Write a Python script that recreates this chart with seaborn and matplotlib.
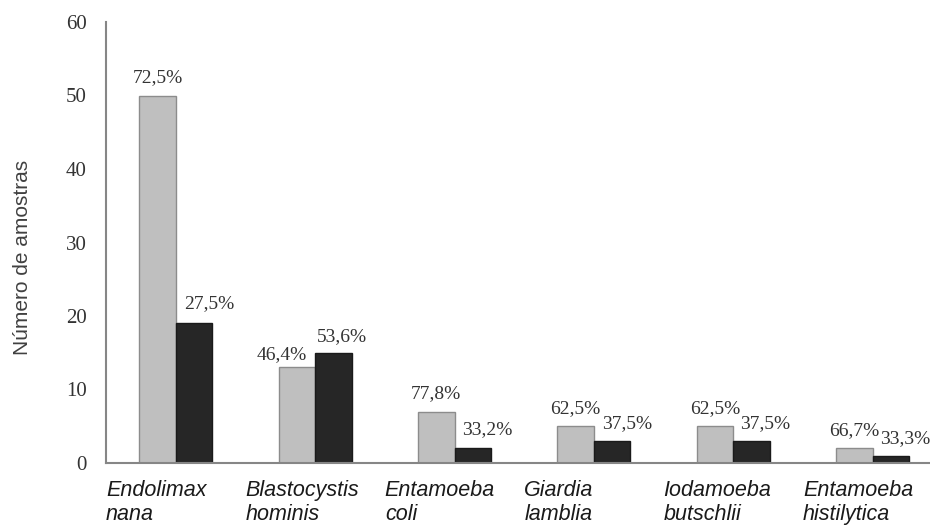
import numpy as np
import pandas as pd
import matplotlib
matplotlib.use("Agg")
import matplotlib.pyplot as plt
import seaborn as sns

# Parasite species (two-line labels) and sample counts per group
species = ["Endolimax\nnana", "Blastocystis\nhominis", "Entamoeba\ncoli",
           "Giardia\nlamblia", "Iodamoeba\nbutschlii", "Entamoeba\nhistilytica"]
grupo_a = [50, 13, 7, 5, 5, 2]
grupo_b = [19, 15, 2, 3, 3, 1]
pct_a = ["72,5%", "46,4%", "77,8%", "62,5%", "62,5%", "66,7%"]
pct_b = ["27,5%", "53,6%", "33,2%", "37,5%", "37,5%", "33,3%"]
y_ticks = [0, 10, 20, 30, 40, 50, 60]

df = pd.DataFrame({
    "especie": species * 2,
    "grupo": ["A"] * len(species) + ["B"] * len(species),
    "n": grupo_a + grupo_b,
})

sns.set_theme(style="white")
plt.rcParams["font.family"] = ["Liberation Sans", "DejaVu Sans"]

fig = plt.figure(figsize=(9.3, 5.25), dpi=100)
W, H = 930, 525
ax = fig.add_axes([106 / W, (H - 463) / H, (W - 106) / W, (463 - 22) / H])

sns.barplot(data=df, x="especie", y="n", hue="grupo",
            palette=["#bfbfbf", "#262626"], width=0.524, gap=0,
            order=species, legend=False, ax=ax, errorbar=None,
            saturation=1)

edge_cols = ["#8c8c8c", "#1a1a1a"]
for cont, ec in zip(ax.containers, edge_cols):
    for p in cont:
        p.set_edgecolor(ec)
        p.set_linewidth(1.0)

ax.set_xlim(-0.5, -0.5 + (W - 106) / 139.4)
ax.set_ylim(0, 60)
ax.set_yticks(y_ticks)
ax.set_yticklabels([str(t) for t in y_ticks], family="Liberation Serif",
                   fontsize=15, color="#333333")
ax.tick_params(axis="y", length=0, pad=14)

# Category names left-aligned at the start of each group slot
ax.set_xticks(np.arange(len(species)) - 0.5)
ax.set_xticklabels(species, ha="left", fontstyle="italic", fontsize=15.5,
                   color="#1a1a1a", linespacing=1.2)
ax.tick_params(axis="x", length=0, pad=12)

ax.set_xlabel("")
ax.set_ylabel("Número de amostras", fontsize=15, color="#404040")
ax.yaxis.set_label_coords(-0.09, 0.465)

for side in ["top", "right"]:
    ax.spines[side].set_visible(False)
for side in ["left", "bottom"]:
    ax.spines[side].set_color("#868686")
    ax.spines[side].set_linewidth(1.5)

# Percentage labels above each bar
dx_a = [0, -15, 0, 0, 0, 0]
dx_b = [15, 9, 14, 15, 14, 14]
dy_a = [13, 8, 13, 13, 13, 13]
dy_b = [15, 12, 14, 13, 13, 13]
for cont, labels, dxs, dys in [(ax.containers[0], pct_a, dx_a, dy_a),
                               (ax.containers[1], pct_b, dx_b, dy_b)]:
    for p, lab, dx, dy in zip(cont, labels, dxs, dys):
        ax.annotate(lab, (p.get_x() + p.get_width() / 2, p.get_height()),
                    xytext=(dx, dy), textcoords="offset pixels",
                    ha="center", va="baseline", family="Liberation Serif",
                    fontsize=14, color="#333333", annotation_clip=False)

fig.savefig("out.png", dpi=100)
